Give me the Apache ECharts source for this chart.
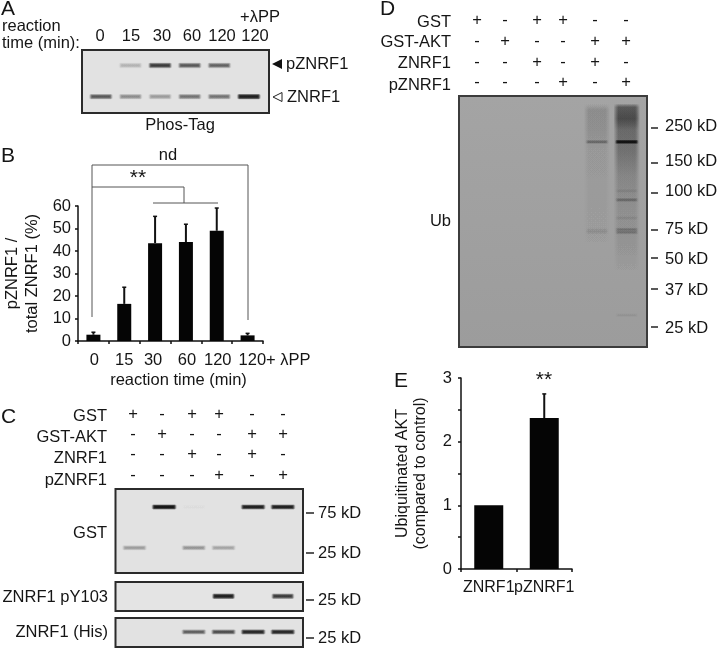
<!DOCTYPE html>
<html><head><meta charset="utf-8">
<style>html,body{margin:0;padding:0;background:#fff}#c{width:717px;height:649px}</style>
<script src="https://cdn.jsdelivr.net/npm/echarts@6/dist/echarts.min.js"></script></head>
<body><div id="c"></div>
<script>
// ---- panel B data
const timeLabels = ['0','15','30','60','120','120+ λPP'];
const pznrfMeans = [2.8,16.5,43.5,44,49,2.5];
const pznrfErrTop = [3.9,23.9,55.4,51.9,59.1,3.4];
// ---- panel E data
const ubLabels = ['ZNRF1','pZNRF1'];
const ubMeans = [1,2.37];
const ubErrTop = [1,2.75];
// ---- panel A blot (band strength per lane)
const laneA = ['0','15','30','60','120','120'];
const aPhospho = [0,0.22,0.75,0.62,0.58,0];
const aTotal = [0.62,0.38,0.32,0.5,0.5,0.88];
// ---- treatment matrix (panels C, D)
const rowNames = ['GST','GST-AKT','ZNRF1','pZNRF1'];
const rowGST = ['+','-','+','+','-','-'];
const rowAKT = ['-','+','-','-','+','+'];
const rowZ = ['-','-','+','-','+','-'];
const rowP = ['-','-','-','+','-','+'];
// ---- panel C blots
const cGstHigh = [0,0.93,0.02,0,0.88,0.88];
const cGstLow = [0.32,0,0.36,0.28,0,0];
const cPY103 = [0,0,0,0.88,0,0.75];
const cHis = [0,0,0.6,0.68,0.85,0.85];
// ---- panel D: bands [lane, % of gel height, strength]; smear profiles [% of gel height, strength]
const dBands = [[4,18.3,0.34],[5,18.3,0.9],[5,37.8,0.1],[5,41.4,0.28],[5,48.6,0.08],[4,53.4,0.1],[4,54.3,0.1],[5,53.2,0.26],[5,54.3,0.26],[5,87.3,0.06]];
const dSmearLane4 = [[3,0],[5.6,0.15],[13.5,0.13],[21.5,0.06],[40,0.04],[57.4,0.03],[62,0]];
const dSmearLane5 = [[3,0],[4.5,0.5],[9,0.6],[13.5,0.38],[21.5,0.34],[31.5,0.2],[37.5,0.15],[47.4,0.11],[57.4,0.08],[65.3,0.04],[72,0]];
const dMarkers = ['250 kD','150 kD','100 kD','75 kD','50 kD','37 kD','25 kD'];

const FONT = '"Liberation Sans", Arial, sans-serif';
const INK = '#151515';
const FS = 16.5;
const gfx = [];
function t(text,x,y,align,size){
  gfx.push({type:'text',z:50,style:{text:text,x:x,y:y,align:align||'left',verticalAlign:'middle',fill:INK,font:(size||FS)+'px '+FONT}});
}
function ln(x1,y1,x2,y2,color,w){
  gfx.push({type:'line',z:50,shape:{x1,y1,x2,y2},style:{stroke:color||'#555',lineWidth:w||1}});
}
// Panel letters
t('A',1,9,'left',21); t('B',1,156,'left',21); t('C',1,417,'left',21); t('D',380,9,'left',21); t('E',394,381,'left',21);

// Panel A text
t('reaction',2,26); t('time (min):',2,43);
const aX=[100,131,162,192,222,255];
laneA.forEach((s,i)=>t(s,aX[i],36,'center'));
t('+λPP',260,17,'center');
t('pZNRF1',286,64); t('ZNRF1',287,97); t('Phos-Tag',180,125,'center');
gfx.push({type:'polygon',z:50,shape:{points:[[272,64],[282,59],[282,69]]},style:{fill:'#111'}});
gfx.push({type:'polygon',z:50,shape:{points:[[273,97],[282,92.5],[282,101.5]]},style:{fill:'#fff',stroke:'#222',lineWidth:1}});

// Panel B annotation
t('nd',168,155,'center');
t('**',138,178,'center',21);
ln(92,165,248,165); ln(92,165,92,317); ln(248,165,248,320);
ln(92,187,184,187); ln(184,187,184,203); ln(153,203,218,203);

// Panel E annotation
t('**',544,380,'center',21);

// Treatment tables
const rows=[rowGST,rowAKT,rowZ,rowP];
const cSignX=[133,162,192,219,252,283], cNameY=[416,437,458,480], cSignY=[414,434,454,475];
const dSignX=[477,505,537,563,595,626], dNameY=[22,42,63,85], dSignY=[20,41,62,82];
rowNames.forEach((n,r)=>{
  t(n,107,cNameY[r],'right'); t(n,451,dNameY[r],'right');
  rows[r].forEach((s,i)=>{
    t(s,cSignX[i],cSignY[r],'center'); t(s,dSignX[i],dSignY[r],'center');
  });
});
// Panel C labels
t('GST',107,533,'right'); t('ZNRF1 pY103',108,597,'right'); t('ZNRF1 (His)',108,632,'right');
[['75 kD',513],['25 kD',553],['25 kD',600],['25 kD',638]].forEach(m=>{
  ln(306,m[1],314,m[1],'#222',1.5); t(m[0],318,m[1]);
});
// Panel D labels
t('Ub',451,221,'right');
const dTickY=[128,163,193,230,258,289,327], dLabelY=[126,161,191,229,259,290,328];
dMarkers.forEach((m,i)=>{
  ln(651,dTickY[i],658,dTickY[i],'#222',1.5); t(m,665,dLabelY[i]);
});

// Blot panels
const G=echarts.graphic;
const blots = [
  {box:[82,50,187,63],bg:'#e2e2e2',thick:5,w:0.88,bands:[].concat(
      aPhospho.map((v,i)=>[i,24.5,v]), aTotal.map((v,i)=>[i,74,v]))},
  {box:[115.5,489,187.5,84],bg:'#e2e2e2',thick:4.5,w:0.92,bands:[].concat(
      cGstHigh.map((v,i)=>[i,21.4,v]), cGstLow.map((v,i)=>[i,70,v]))},
  {box:[115.5,582,187.5,29],bg:'#e4e4e4',thick:5,w:0.85,bands:cPY103.map((v,i)=>[i,49,v])},
  {box:[115.5,618,187.5,29],bg:'#e2e2e2',thick:4.5,w:0.92,bands:cHis.map((v,i)=>[i,48,v])},
  {box:[459,96,188,251],bg:new G.LinearGradient(0,0,0,1,[{offset:0,color:'#a4a4a4'},{offset:1,color:'#9c9c9c'}]),thick:3.5,w:0.86,bands:dBands,
   smears:[[4,dSmearLane4],[5,dSmearLane5]],border:'#3c3c3c'}
];
const grids=[
  {left:78,top:206,width:185,height:135},
  {left:461,top:378,width:111,height:191}
];
const axisBase={axisLine:{show:true,lineStyle:{color:'#111',width:1.5}},axisTick:{show:true,length:3,lineStyle:{color:'#111',width:1.5}}};
// per-label shift for panel B's tick labels, which sit off their bars in the figure
const bShift=[1,0,-2,1,1,27];
const richB={t:{color:INK,fontFamily:FONT,fontSize:FS}};
bShift.forEach(s=>{if(s)richB['p'+Math.abs(s)]={width:Math.abs(s)*2,fontSize:FS};});
const xAxes=[
  Object.assign({gridIndex:0,type:'category',data:timeLabels,
   name:'reaction time (min)',nameLocation:'middle',nameGap:31,nameTextStyle:{color:INK,fontFamily:FONT,fontSize:FS,padding:[0,0,0,16]},
   axisLabel:{margin:11,interval:0,hideOverlap:false,rich:richB,
     formatter:(v,i)=>{const s=bShift[i];
       return s>0?'{p'+s+'| }{t|'+v+'}':(s<0?'{t|'+v+'}{p'+(-s)+'| }':'{t|'+v+'}');}}},axisBase),
  Object.assign({gridIndex:1,type:'category',data:ubLabels,
   axisLabel:{color:INK,fontFamily:FONT,fontSize:16,margin:11,interval:0,hideOverlap:false}},axisBase)
];
const yAxes=[
  Object.assign({gridIndex:0,type:'value',min:0,max:60,interval:10,splitLine:{show:false},
   axisLabel:{color:INK,fontFamily:FONT,fontSize:FS,margin:7},
   name:'pZNRF1 /\ntotal ZNRF1 (%)',nameLocation:'middle',nameRotate:90,nameGap:36,
   nameTextStyle:{color:INK,fontFamily:FONT,fontSize:FS,lineHeight:20}},axisBase),
  Object.assign({gridIndex:1,type:'value',min:0,max:3,interval:0.5,splitLine:{show:false},
   axisLabel:{color:INK,fontFamily:FONT,fontSize:FS,margin:9,formatter:v=>Number.isInteger(v)?String(v):''},
   name:'Ubiquitinated AKT\n(compared to control)',nameLocation:'middle',nameRotate:90,nameGap:31,
   nameTextStyle:{color:INK,fontFamily:FONT,fontSize:16,lineHeight:18}},axisBase)
];
function errRender(params,api){
  const x=api.value(0), p0=api.coord([x,api.value(1)]), p1=api.coord([x,api.value(2)]);
  return {type:'group',children:[
    {type:'line',shape:{x1:p0[0],y1:p0[1],x2:p1[0],y2:p1[1]},style:{stroke:'#111',lineWidth:2}},
    {type:'line',shape:{x1:p1[0]-2,y1:p1[1],x2:p1[0]+2,y2:p1[1]},style:{stroke:'#111',lineWidth:1.5}}
  ]};
}
const series=[
  {type:'bar',xAxisIndex:0,yAxisIndex:0,data:pznrfMeans,barWidth:14,itemStyle:{color:'#050505'},silent:true},
  {type:'custom',xAxisIndex:0,yAxisIndex:0,renderItem:errRender,encode:{x:0,y:[1,2]},silent:true,
   data:pznrfMeans.map((m,i)=>[i,m,pznrfErrTop[i]])},
  {type:'bar',xAxisIndex:1,yAxisIndex:1,data:ubMeans,barWidth:29,itemStyle:{color:'#050505'},silent:true},
  {type:'custom',xAxisIndex:1,yAxisIndex:1,renderItem:errRender,encode:{x:0,y:[1,2]},silent:true,
   data:ubMeans.map((m,i)=>[i,m,ubErrTop[i]]).filter((d,i)=>ubErrTop[i]>ubMeans[i])}
];
const LAYERS=6;
const layerA=s=>1-Math.pow(1-Math.min(s,0.99),1/LAYERS);
blots.forEach(b=>{
  const gi=grids.length;
  grids.push({left:b.box[0],top:b.box[1],width:b.box[2],height:b.box[3],show:true,backgroundColor:b.bg,borderColor:b.border||'#2b2b2b',borderWidth:2});
  xAxes.push({gridIndex:gi,type:'value',min:-0.64,max:5.68,show:false});
  yAxes.push({gridIndex:gi,type:'value',min:0,max:100,inverse:true,show:false});
  if(b.smears){
    b.smears.forEach(sm=>{
      const lane=sm[0], prof=sm[1], y0=prof[0][0], y1=prof[prof.length-1][0];
      series.push({type:'custom',xAxisIndex:gi,yAxisIndex:gi,silent:true,clip:true,encode:{x:0,y:1},data:[[lane,y0,y1]],
        renderItem:(p,api)=>{
          const a=api.coord([api.value(0)-b.w/2,api.value(1)]), c=api.coord([api.value(0)+b.w/2,api.value(2)]);
          const kids=[];
          for(let k=0;k<LAYERS;k++){
            const inset=k*0.8;
            const stops=prof.map(d=>({offset:(d[0]-y0)/(y1-y0),color:'rgba(15,15,15,'+layerA(d[1])+')'}));
            kids.push({type:'rect',shape:{x:a[0]+inset,y:a[1],width:c[0]-a[0]-2*inset,height:c[1]-a[1]},
              style:{fill:new G.LinearGradient(0,0,0,1,stops)}});
          }
          return {type:'group',children:kids};
        }});
    });
  }
  series.push({type:'custom',xAxisIndex:gi,yAxisIndex:gi,silent:true,clip:true,encode:{x:0,y:1},data:b.bands.filter(d=>d[2]>0),
    renderItem:(p,api)=>{
      const x=api.value(0), c=api.coord([x,api.value(1)]), l=api.coord([x-b.w/2,0])[0], r=api.coord([x+b.w/2,0])[0], s=api.value(2);
      const a=layerA(s), kids=[], full=r-l;
      for(let k=0;k<LAYERS;k++){
        const f=(k+1)/LAYERS;
        const h=b.thick*(1.25-f*0.95), w=full*(0.78+0.22*(1-f));
        const stops=[{offset:0,color:'rgba(5,5,5,0)'},{offset:0.1,color:'rgba(5,5,5,'+a+')'},{offset:0.9,color:'rgba(5,5,5,'+a+')'},{offset:1,color:'rgba(5,5,5,0)'}];
        kids.push({type:'rect',shape:{x:(l+r)/2-w/2,y:c[1]-h/2,width:w,height:h,r:h/2},style:{fill:new G.LinearGradient(0,0,1,0,stops)}});
      }
      return {type:'group',children:kids};
    }});
});
const chart=echarts.init(document.getElementById('c'),null,{renderer:'canvas'});
chart.setOption({animation:false,backgroundColor:'#fff',textStyle:{fontFamily:FONT},grid:grids,xAxis:xAxes,yAxis:yAxes,series:series,graphic:{elements:gfx}});
</script></body></html>
